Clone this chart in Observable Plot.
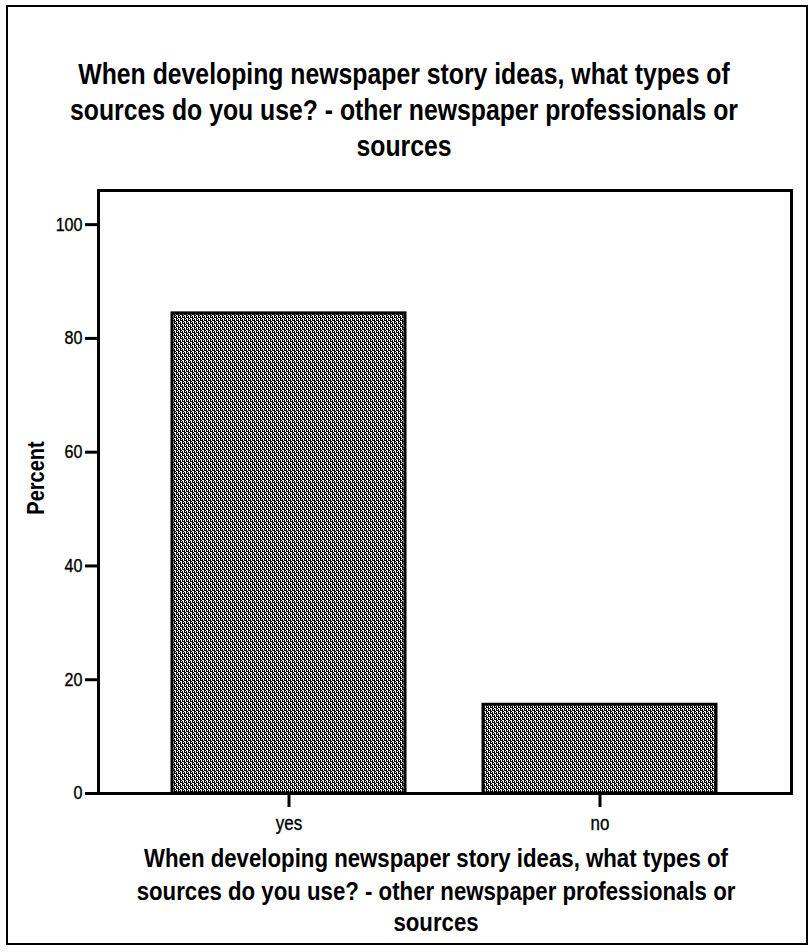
<!DOCTYPE html>
<html>
<head>
<meta charset="utf-8">
<script src="https://cdn.jsdelivr.net/npm/d3@7"></script>
<script src="https://cdn.jsdelivr.net/npm/@observablehq/plot@0.6"></script>
<style>
  html, body { margin: 0; padding: 0; background: #fff; }
  #page { position: relative; width: 810px; height: 952px; overflow: hidden; background: #fff;
          font-family: "Liberation Sans", Arial, Helvetica, sans-serif; }
  #border { position: absolute; left: 6px; top: 5px; width: 798px; height: 936px; border: 2px solid #000; }
  #plot { position: absolute; left: 0; top: 160px; }
  svg.lbl { position: absolute; left: 0; overflow: visible; }
</style>
</head>
<body>
<div id="page">
  <div id="border"></div>
  <div id="plot"></div>
</div>
<script>
// ---- data ----
const categories = ["yes", "no"];
const percents = [84.4, 15.6];
const yTicks = [0, 20, 40, 60, 80, 100];
const titleLines = [
  "When developing newspaper story ideas, what types of",
  "sources do you use? - other newspaper professionals or",
  "sources"
];
const xLabelLines = titleLines;
const yLabel = "Percent";

const data = categories.map((c, i) => ({cat: c, pct: percents[i]}));
const FONT = '"Liberation Sans", Arial, Helvetica, sans-serif';
const SQUEEZE = 0.87;

const W = 810, H = 690, MT = 30, MB = 57, ML = 98, MR = 19;
const frameW = W - ML - MR, frameH = H - MT - MB;

const chart = Plot.plot({
  width: W,
  height: H,
  marginTop: MT,
  marginBottom: MB,
  marginLeft: ML,
  marginRight: MR,
  style: {fontFamily: FONT, fontSize: "18px", color: "#000", background: "transparent", overflow: "visible"},
  x: {type: "band", domain: categories, paddingInner: 0.25, paddingOuter: 0.2375, label: null},
  y: {domain: [0, 106], label: null},
  marks: [
    Plot.barY(data, {x: "cat", y: "pct", fill: "url(#dither)", stroke: "#000", strokeWidth: 3}),
    Plot.frame({stroke: "#000", strokeWidth: 3}),
    // thick outward tick marks
    Plot.ruleY(yTicks, {y: d => d, stroke: "#000", strokeWidth: 3, insetLeft: -13, insetRight: frameW}),
    Plot.ruleX(categories, {x: d => d, stroke: "#000", strokeWidth: 3, insetTop: frameH, insetBottom: -14}),
    Plot.axisY({ticks: yTicks, tickSize: 0, tickPadding: 16, fontSize: 18.5, label: null}),
    Plot.axisX({tickSize: 0, tickPadding: 23, fontSize: 19.5, label: null}),
    Plot.text([yLabel], {frameAnchor: "left", textAnchor: "middle", dx: -62, dy: -14, rotate: -90,
                         fontSize: 23, fontWeight: "bold", text: d => d})
  ]
});
document.getElementById("plot").appendChild(chart);

const svg = d3.select(chart);

// coarse dither pattern for the bars
const defs = svg.insert("defs", ":first-child");
const pat = defs.append("pattern").attr("id", "dither").attr("patternUnits", "userSpaceOnUse")
  .attr("width", 4).attr("height", 6);
pat.append("rect").attr("width", 4).attr("height", 6).attr("fill", "#fff");
[[0,0],[0,1],[0,2],[0,3],[0,4],[2,0],[2,1],[2,3],[2,4],[2,5],[1,2],[3,5],[1,4],[3,1]].forEach(([x, y]) =>
  pat.append("rect").attr("x", x).attr("y", y).attr("width", 1).attr("height", 1).attr("fill", "#000"));

// narrow the axis texts horizontally (as the reference's condensed face), slightly heavier strokes
svg.selectAll("text").each(function () {
  const t = this.getAttribute("transform") || "";
  this.setAttribute("transform", (t + ` scale(${SQUEEZE},1)`).trim());
});
svg.selectAll('[aria-label$="tick label"]').attr("stroke", "#000").attr("stroke-width", 0.35).attr("fill", "#000");

// title and x-axis label as real text
function addLines(top, height, lines, cx, baselines, size, sx) {
  const s = d3.select("#page").append("svg").attr("class", "lbl")
    .attr("width", 810).attr("height", height).style("top", top + "px");
  lines.forEach((t, i) => {
    s.append("text")
      .attr("transform", `translate(${cx},${baselines[i]}) scale(${sx},1)`)
      .attr("text-anchor", "middle").attr("font-family", FONT).attr("font-weight", "bold")
      .attr("font-size", size).attr("fill", "#000")
      .text(t);
  });
}
addLines(40, 130, titleLines, 404, [44, 80, 116], 29, 0.855);
addLines(830, 115, xLabelLines, 436, [37, 70, 101], 26, 0.855);
</script>
</body>
</html>
